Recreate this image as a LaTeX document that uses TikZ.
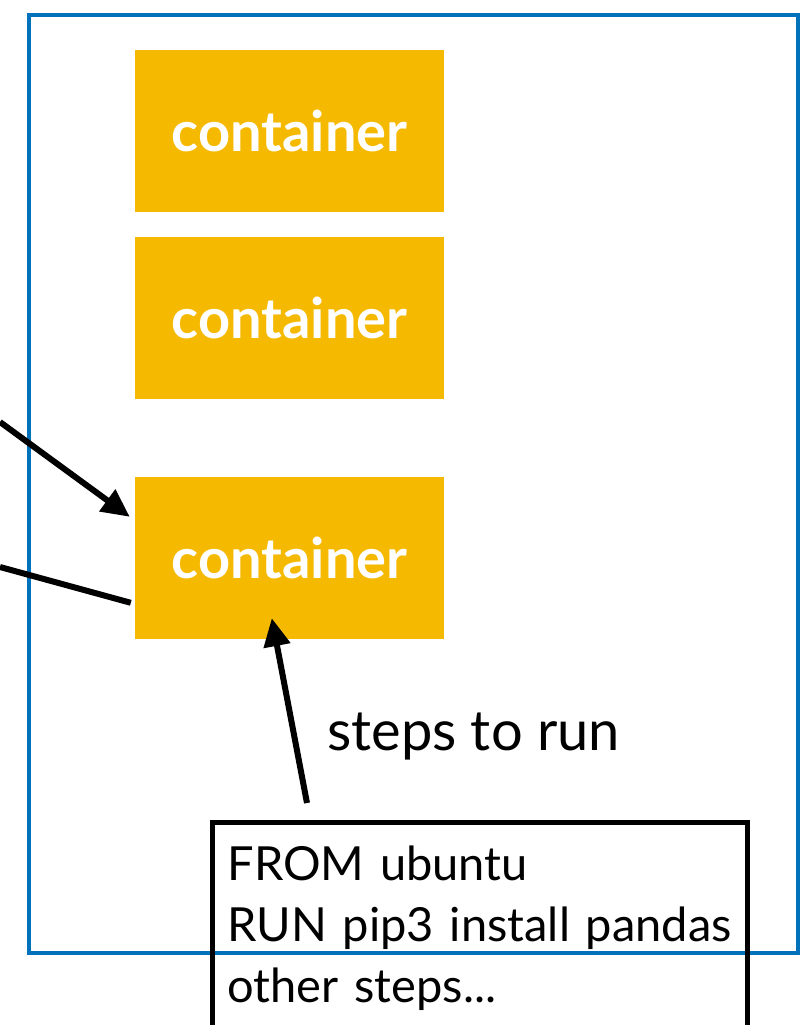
\documentclass[tikz,border=0pt]{standalone}
\usepackage{fontspec}
\setmainfont{Lato}
\usetikzlibrary{arrows.meta,calc}
\definecolor{cblue}{RGB}{0,114,188}
\definecolor{corange}{RGB}{245,185,0}
\begin{document}
\begin{tikzpicture}[x=1pt,y=-1pt,
  cbox/.style={fill=corange, minimum width=309pt, minimum height=162pt, inner sep=0pt,
    text=white, font=\fontsize{56}{60}\selectfont\bfseries},
  conn/.style={line width=6pt, -{Triangle[length=28pt,width=26pt]}},
  plain/.style={line width=6pt},
  codebox/.style={draw, line width=5pt, anchor=north west, align=left, text width=505pt,
    inner xsep=15pt, inner ysep=23pt, font=\fontsize{47}{61}\selectfont},
  lbl/.style={font=\fontsize{56}{60}\selectfont, anchor=base west, inner sep=0pt}]
\useasboundingbox (0,0) rectangle (806,1025);
\draw[cblue, line width=4.5pt] (29,15) rectangle (798,953);
\node[cbox] (c1) at (289.5,131) {container};
\node[cbox] (c2) at (289.5,318) {container};
\node[cbox] (c3) at (289.5,558) {container};
\node[codebox] (code) at (210,820) {\hyphenpenalty=10000 FROM ubuntu\\RUN pip3 install pandas\\other steps...};
\node[lbl] (steps) at (327,750) {steps to run};
\coordinate (a1) at (0,422);
\coordinate (a2) at (0,567);
\draw[conn] (a1) -- ($(c3.north west)+(-5,40)$);
\draw[plain] (a2) -- ($(c3.north west)+(-4,126)$);
\draw[conn] ($(code.north west)+(97,-17)$) -- ($(c3.south west)+(137,-21)$);
\end{tikzpicture}
\end{document}
